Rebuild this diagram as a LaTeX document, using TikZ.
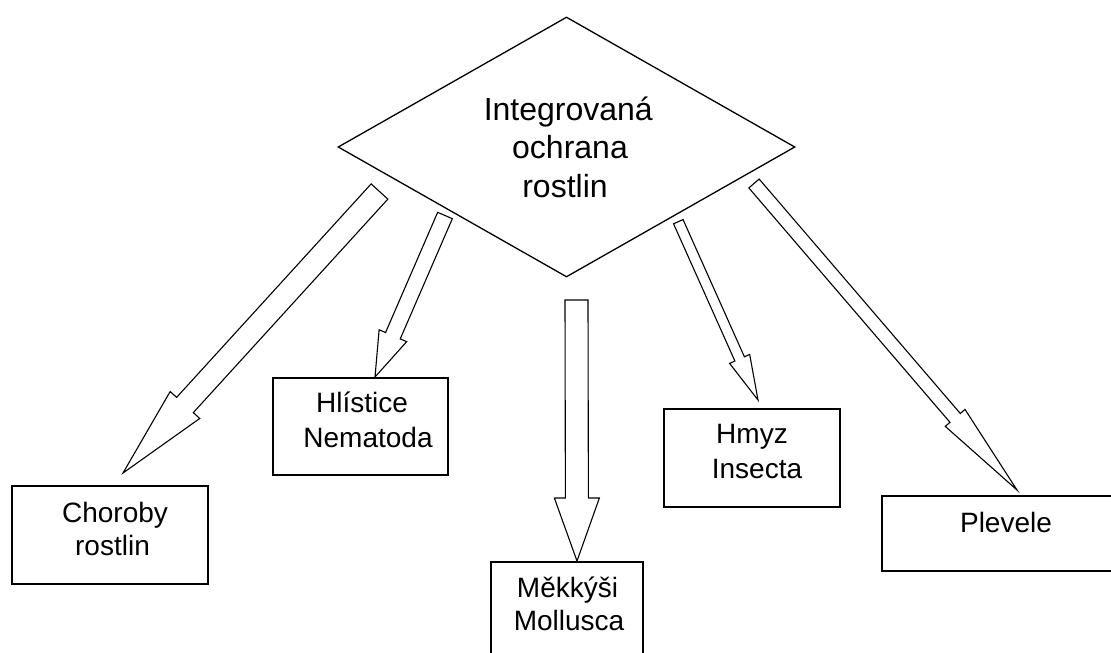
\documentclass[tikz,border=0pt]{standalone}
\usepackage{fontspec}
\setmainfont{Liberation Sans}
\usetikzlibrary{calc,shapes.geometric}
\tikzset{
  boxnode/.style={draw=black, line width=1.6pt, rectangle, inner sep=0pt},
  dianode/.style={draw=black, line width=1.3pt, diamond, inner sep=0pt, aspect=1.76},
  blk/.style={draw=black, line width=1.1pt, line join=miter},
  lbl/.style={anchor=base, inner sep=0pt, font=\fontsize{28}{34}\selectfont},
  dlbl/.style={anchor=base, inner sep=0pt, font=\fontsize{32}{38}\selectfont},
}
% block arrow: tail, tip, shaft half width, head half width, head length, name
\newcommand{\blockarr}[6]{%
  \path ($(#2)!#5!(#1)$) coordinate (#6h);
  \draw[blk] ($(#1)!#3!90:(#2)$) -- ($(#6h)!#3!90:(#2)$) -- ($(#6h)!#4!90:(#2)$)
    -- (#2) -- ($(#6h)!#4!-90:(#2)$) -- ($(#6h)!#3!-90:(#2)$) -- ($(#1)!#3!-90:(#2)$) -- cycle;
}
\begin{document}
\begin{tikzpicture}[x=1pt,y=-1pt]
\useasboundingbox[fill=white] (0,0) rectangle (1111,653);

% central diamond
\node[dianode, minimum width=457pt, minimum height=260pt] (iop) at (566.5,147) {};
\node[dlbl] (iop1) at (568.3,120) {Integrovaná};
\node[dlbl] (iop2) at (570,158) {ochrana};
\node[dlbl] (iop3) at (565,197) {rostlin};

% boxes
\node[boxnode, minimum width=196pt, minimum height=98pt] (chor) at (110,535) {};
\node[lbl] (chor1) at (115,522) {Choroby};
\node[lbl] (chor2) at (112.5,555) {rostlin};

\node[boxnode, minimum width=175pt, minimum height=97pt] (hlis) at (360.5,426.5) {};
\node[lbl] (hlis1) at (362,412) {Hlístice};
\node[lbl] (hlis2) at (368,447) {Nematoda};

\node[boxnode, minimum width=152pt, minimum height=98pt] (mekk) at (567,611) {};
\node[lbl] (mekk1) at (567.5,597) {Měkkýši};
\node[lbl] (mekk2) at (569,630) {Mollusca};

\node[boxnode, minimum width=176pt, minimum height=98pt] (hmyz) at (752,458) {};
\node[lbl] (hmyz1) at (752,443) {Hmyz};
\node[lbl] (hmyz2) at (757,478) {Insecta};

\node[boxnode, minimum width=233pt, minimum height=75pt] (plev) at (998.5,533.5) {};
\node[lbl] (plev1) at (1006,532) {Plevele};

% arrow ends
\coordinate (chorT) at (379.5,191.5);
\coordinate (chorP) at (123,473);
\coordinate (hlisT) at (445,215.5);
\coordinate (hlisP) at (375,377);
\coordinate (mekkT) at (576.5,300);
\coordinate (mekkP) at (577,561);
\coordinate (hmyzT) at (678.3,221.7);
\coordinate (hmyzP) at (758,400);
\coordinate (plevT) at (754,183.5);
\coordinate (plevP) at (1017,490);

\blockarr{chorT}{chorP}{11.3pt}{20pt}{92pt}{chor}
\blockarr{hlisT}{hlisP}{8pt}{15pt}{45pt}{hlis}
\blockarr{mekkT}{mekkP}{11.5pt}{22.5pt}{63pt}{mekk}
\blockarr{hmyzT}{hmyzP}{5.2pt}{11pt}{45pt}{hmyz}
\blockarr{plevT}{plevP}{6.8pt}{13pt}{95pt}{plev}
\end{tikzpicture}
\end{document}
